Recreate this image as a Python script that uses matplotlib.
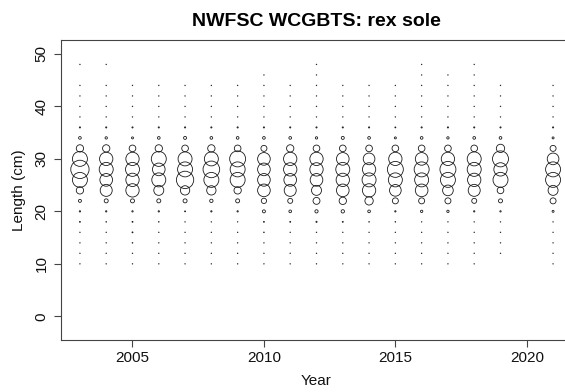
import numpy as np
import matplotlib
matplotlib.use("Agg")
import matplotlib.pyplot as plt

# ---- data -------------------------------------------------------------
years = [2003, 2004, 2005, 2006, 2007, 2008, 2009, 2010, 2011,
         2012, 2013, 2014, 2015, 2016, 2017, 2018, 2019, 2021]
lengths = [10, 12, 14, 16, 18, 20, 22, 24, 26, 28,
           30, 32, 34, 36, 38, 40, 42, 44, 46, 48]

# proportions (%) by length bin (10..48 cm) for each survey year
comp_2003 = [.03, .03, .03, .03, .10, .19, .97, 5.8, 24.3, 36.3, 24.3, 5.8, .77, .15, .03, .03, .03, .03, 0, .03]
comp_2004 = [.03, .03, .03, .03, .05, .19, 1.73, 15.6, 17.3, 21.2, 19.2, 5.8, .59, .15, .03, .03, .03, .03, 0, .03]
comp_2005 = [.03, .03, .05, .10, .10, .19, 1.73, 19.2, 19.2, 21.2, 19.2, 4.8, .43, .15, .03, .03, .03, .03, 0, 0]
comp_2006 = [.03, .03, .03, .03, .05, .19, 1.73, 10.8, 21.2, 17.3, 24.3, 5.8, .77, .15, .03, .03, .03, .03, 0, 0]
comp_2007 = [.03, .03, .03, .03, .03, .10, 1.73, 9.4, 32.5, 24.3, 21.2, 4.8, .97, .15, .03, .03, .03, .03, 0, 0]
comp_2008 = [.03, .03, .03, .03, .03, .19, 1.2, 9.4, 24.3, 30.0, 21.2, 5.8, .77, .15, .03, .03, .03, .03, 0, 0]
comp_2009 = [.03, .03, .03, .03, .03, .19, 1.73, 5.8, 24.3, 24.3, 27.6, 4.8, .77, .15, .03, .03, .03, .03, 0, 0]
comp_2010 = [.03, .03, .03, .05, .10, .97, 3.0, 17.3, 17.3, 17.3, 17.3, 3.9, .77, .15, .03, .03, .03, .03, .03, 0]
comp_2011 = [.03, .03, .03, .03, .10, .77, 2.7, 15.6, 17.3, 19.2, 19.2, 5.8, .77, .15, .03, .03, .03, .03, 0, 0]
comp_2012 = [.03, .03, .03, .03, .15, 1.1, 5.2, 10.8, 17.3, 19.2, 19.2, 4.8, .59, .15, .03, .03, .03, .03, .03, .03]
comp_2013 = [.03, .03, .03, .03, .10, 1.2, 5.8, 17.3, 19.2, 21.2, 17.3, 4.8, .97, .15, .03, .03, .03, .03, 0, 0]
comp_2014 = [.03, .03, .03, .03, .05, .77, 7.5, 19.2, 21.2, 19.2, 14.7, 4.8, .77, .15, .03, .03, .03, .03, 0, 0]
comp_2015 = [.03, .03, .03, .03, .05, .19, 3.9, 14.7, 21.2, 27.6, 19.2, 4.8, .43, .10, .03, .03, .03, .03, 0, 0]
comp_2016 = [.03, .03, .03, .03, .03, .59, 3.9, 17.3, 21.2, 24.3, 17.3, 4.8, .77, .15, .03, .03, .03, .03, .03, .03]
comp_2017 = [.03, .03, .03, .03, .03, .59, 3.9, 12.3, 24.3, 27.6, 19.2, 4.8, .59, .15, .03, .03, .03, .03, .03, 0]
comp_2018 = [.03, .03, .03, .03, .03, .19, 2.7, 15.6, 19.2, 21.2, 21.2, 4.8, .77, .15, .03, .03, .03, .03, .03, .03]
comp_2019 = [0, .03, .03, .03, .03, .19, 1.73, 4.8, 24.3, 19.2, 27.6, 7.5, .77, .15, .03, .03, .03, .03, 0, 0]
comp_2021 = [.03, .03, .03, .03, .03, .43, 3.9, 10.8, 24.3, 24.3, 14.7, 3.9, .43, .15, .03, .03, .03, .03, 0, 0]

comps = [comp_2003, comp_2004, comp_2005, comp_2006, comp_2007, comp_2008,
         comp_2009, comp_2010, comp_2011, comp_2012, comp_2013, comp_2014,
         comp_2015, comp_2016, comp_2017, comp_2018, comp_2019, comp_2021]

title = "NWFSC WCGBTS: rex sole"
xlabel = "Year"
ylabel = "Length (cm)"
xticks = [2005, 2010, 2015, 2020]
yticks = [0, 10, 20, 30, 40, 50]

# ---- figure -----------------------------------------------------------
plt.rcParams['font.family'] = ['Liberation Sans', 'DejaVu Sans']
W, H = 565, 392
fig = plt.figure(figsize=(W / 100, H / 100), dpi=100)
left_px, right_px, top_px, bot_px = 61, 572, 40, 340
ax = fig.add_axes([left_px / W, 1 - bot_px / H,
                   (right_px - left_px) / W, (bot_px - top_px) / H])

xs, ys, vs = [], [], []
for yr, comp in zip(years, comps):
    for L, v in zip(lengths, comp):
        if v > 0:
            xs.append(yr)
            ys.append(L)
            vs.append(v)
vs = np.array(vs)
vmax = vs.max()
dmax_px = 18.3
d_pt = dmax_px * np.sqrt(vs / vmax) * 0.72
ax.scatter(xs, ys, s=d_pt ** 2, facecolors='none', edgecolors='#1a1a1a',
           linewidths=0.6, zorder=3)

ax.set_xlim(2002.28, 2021.72)
ax.set_ylim(-4.52, 52.66)
ax.set_xticks(xticks)
ax.set_yticks(yticks)
ax.set_xticklabels([str(t) for t in xticks], fontsize=11)
ax.set_yticklabels([str(t) for t in yticks], fontsize=11, rotation=90,
                   va='center')
ax.tick_params(axis='both', direction='out', length=5, width=0.8,
               color='#444444', labelcolor='#111111')
ax.tick_params(axis='x', pad=3)
ax.tick_params(axis='y', pad=4)
for side in ['left', 'bottom', 'top']:
    ax.spines[side].set_color('#444444')
    ax.spines[side].set_linewidth(0.8)
ax.spines['right'].set_visible(False)

cx = ((left_px + right_px) / 2) / W
fig.text(cx, 1 - 25.5 / H, title, ha='center', va='baseline',
         fontsize=14, fontweight='bold', color='black')
fig.text(cx, 1 - 381 / H, xlabel, ha='center', va='center', fontsize=11,
         color='#111111')
fig.text(19 / W, 1 - ((top_px + bot_px) / 2) / H, ylabel, ha='center',
         va='center', rotation=90, fontsize=11, color='#111111')

fig.savefig("out.png", dpi=100)
